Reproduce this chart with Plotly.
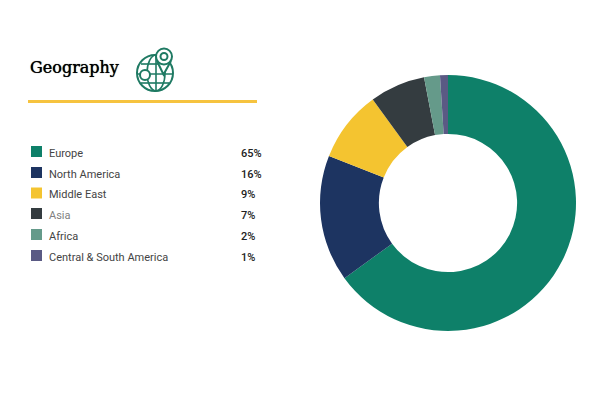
import plotly.graph_objects as go

# Values
regions = ["Europe", "North America", "Middle East", "Asia", "Africa", "Central & South America"]
shares = [65, 16, 9, 7, 2, 1]
colors = ["#0E8069", "#1D3461", "#F4C430", "#343C40", "#659A8A", "#5A5A84"]
label_colors = ["#444444", "#444444", "#444444", "#808080", "#444444", "#444444"]
row_tops = [146, 167, 187.5, 208, 229, 250]

W, H = 600, 400
ICON = "#1F7A63"


# Layout helpers, everything below is placed in pixels of the 600x400 page
def px(x):
    return x / W


def py(y):
    return 1 - y / H


def box(kind, x0, y0, x1, y1, **kw):
    return dict(type=kind, xref="paper", yref="paper", x0=px(x0), x1=px(x1), y0=py(y0), y1=py(y1), **kw)


def circle(cx, cy, r, fill="rgba(0,0,0,0)", width=2):
    return box("circle", cx - r, cy - r, cx + r, cy + r, line=dict(color=ICON, width=width), fillcolor=fill)


def path(d_points, fill="rgba(0,0,0,0)", width=1.6):
    d = "M " + " L ".join(f"{px(x):.4f},{py(y):.4f}" for x, y in d_points)
    return dict(type="path", xref="paper", yref="paper", path=d, line=dict(color=ICON, width=width), fillcolor=fill)


fig = go.Figure(
    go.Pie(
        values=shares,
        labels=regions,
        hole=0.54,
        sort=False,
        direction="clockwise",
        rotation=0,
        marker=dict(colors=colors, line=dict(width=0)),
        textinfo="none",
        hoverinfo="label+percent",
        showlegend=False,
        domain=dict(x=[px(320), px(576)], y=[py(331), py(75)]),
    )
)

shapes = []
annotations = []

# Yellow rule under the heading
shapes.append(box("rect", 28, 100, 257, 103, fillcolor="#F6C33F", line=dict(width=0)))

# Globe and pin icon
shapes.append(circle(155, 73, 18))
shapes.append(path([(137, 74), (173, 74)]))
shapes.append(path([(156, 55), (156, 91)]))
shapes.append(path([(141, 64), (168, 64)]))
shapes.append(path([(141, 83), (169, 83)]))
shapes.append(box("circle", 147, 55, 165, 91, line=dict(color=ICON, width=1.6), fillcolor="rgba(0,0,0,0)"))
shapes.append(path([(157, 61), (163.5, 74.5), (171, 61)], fill="white", width=2))
shapes.append(circle(164, 56.5, 8, fill="white"))
shapes.append(circle(164, 56.5, 3.5, fill="white"))
shapes.append(circle(145, 75, 5, fill="white"))

# Hand-built legend rows
for name, share, color, label_color, top in zip(regions, shares, colors, label_colors, row_tops):
    shapes.append(box("rect", 31, top, 42, top + 11, fillcolor=color, line=dict(width=0)))
    annotations.append(
        dict(
            x=px(47), y=py(top + 7), xref="paper", yref="paper", text=name, showarrow=False,
            xanchor="left", yanchor="middle", font=dict(family="Roboto", size=11, color=label_color),
        )
    )
    annotations.append(
        dict(
            x=px(239), y=py(top + 7), xref="paper", yref="paper", text=f"{share}%", showarrow=False,
            xanchor="left", yanchor="middle", font=dict(family="Roboto", size=11, color="#222222", weight=500),
        )
    )

annotations.append(
    dict(
        x=px(28), y=py(67), xref="paper", yref="paper", text="Geography", showarrow=False,
        xanchor="left", yanchor="middle",
        font=dict(family="DejaVu Serif", size=16, color="#000000", shadow="0 0 0.7px #000"),
    )
)

fig.update_layout(
    width=W,
    height=H,
    margin=dict(l=0, r=0, t=0, b=0),
    paper_bgcolor="white",
    plot_bgcolor="white",
    shapes=shapes,
    annotations=annotations,
)

# Drop the page's default body margin so the chart sits at the window corner
fig.write_html("out.html", config=dict(displayModeBar=False), post_script="document.body.style.margin='0';")
